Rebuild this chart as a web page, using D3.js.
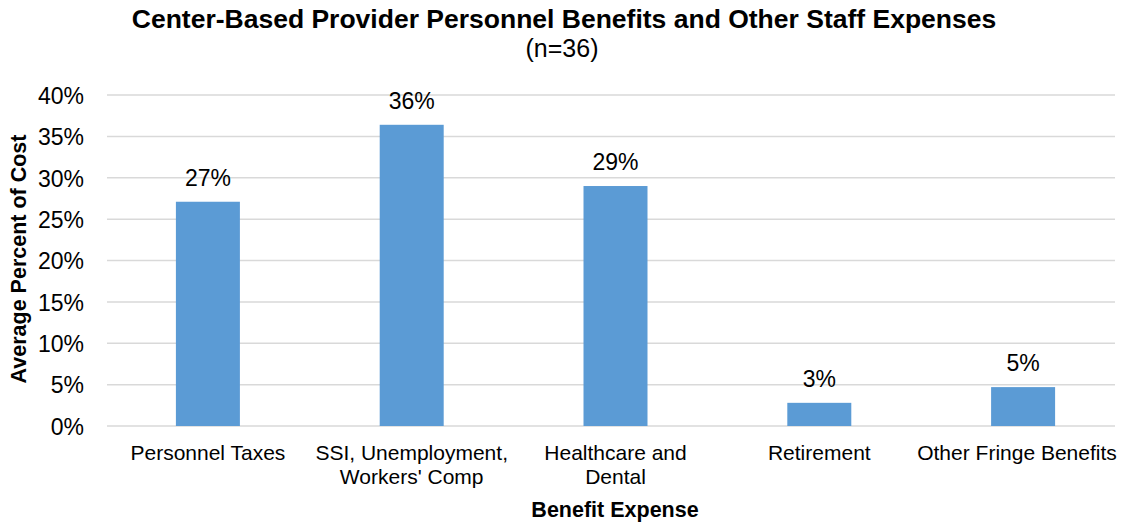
<!DOCTYPE html>
<html><head><meta charset="utf-8">
<script src="https://cdn.jsdelivr.net/npm/d3@7"></script>
<style>body{margin:0;background:#fff}svg{display:block}text{font-family:"Liberation Sans",Arial,sans-serif;fill:#000}</style>
</head><body>
<script>
const categories = [["Personnel Taxes"],["SSI, Unemployment,","Workers' Comp"],["Healthcare and","Dental"],["Retirement"],["Other Fringe Benefits"]];
const values = [0.271, 0.364, 0.290, 0.028, 0.047];
const valueLabels = ["27%","36%","29%","3%","5%"];
const yTicks = [0,0.05,0.10,0.15,0.20,0.25,0.30,0.35,0.40];

(function(){
const W=1130,H=523;
const svg=d3.select("body").append("svg").attr("width",W).attr("height",H);
const pl=107,pr=1115,pt=95,pb=426;
const x=d3.scaleBand().domain(d3.range(categories.length)).range([106,1125]).paddingInner(0.686).paddingOuter(0.343);
const y=d3.scaleLinear().domain([0,0.4]).range([pb,pt]);

svg.append("g").selectAll("line").data(yTicks).join("line")
 .attr("x1",pl).attr("x2",pr).attr("y1",d=>y(d)).attr("y2",d=>y(d))
 .attr("stroke","#d9d9d9").attr("stroke-width",1.5);

const yAxis=d3.axisLeft(y).tickValues(yTicks).tickFormat(d3.format(".0%")).tickSize(0).tickPadding(0);
const ya=svg.append("g").attr("transform",`translate(84,0)`).call(yAxis);
ya.select(".domain").remove();
ya.selectAll("text").style("font-size","23px").style("font-family","'Liberation Sans',Arial,sans-serif").attr("fill","#000").attr("dy","0.36em");

svg.append("g").selectAll("rect").data(values).join("rect")
 .attr("x",(d,i)=>x(i)).attr("width",x.bandwidth())
 .attr("y",d=>y(d)).attr("height",d=>pb-y(d)).attr("fill","#5b9bd5");

svg.append("g").selectAll("text").data(values).join("text")
 .attr("x",(d,i)=>x(i)+x.bandwidth()/2).attr("y",d=>y(d)-16)
 .attr("text-anchor","middle").style("font-size","23px").text((d,i)=>valueLabels[i]);

const cg=svg.append("g").selectAll("text").data(categories).join("text")
 .attr("x",(d,i)=>Math.min(x(i)+x.bandwidth()/2,1017)).attr("y",460).attr("text-anchor","middle").style("font-size","21px");
cg.selectAll("tspan").data(d=>d).join("tspan")
 .attr("x",function(){return this.parentNode.getAttribute("x");}).attr("dy",(d,j)=>j?24:0).text(d=>d);

svg.append("text").attr("x",564).attr("y",28).attr("text-anchor","middle").style("font-size","26.5px").style("font-weight","bold").text("Center-Based Provider Personnel Benefits and Other Staff Expenses");
svg.append("text").attr("x",562).attr("y",57).attr("text-anchor","middle").style("font-size","25px").text("(n=36)");
svg.append("text").attr("x",615).attr("y",517).attr("text-anchor","middle").style("font-size","21.5px").style("font-weight","bold").text("Benefit Expense");
svg.append("text").attr("transform","translate(26,259) rotate(-90)").attr("text-anchor","middle").style("font-size","21.5px").style("font-weight","bold").text("Average Percent of Cost");
})();
</script>
</body></html>
